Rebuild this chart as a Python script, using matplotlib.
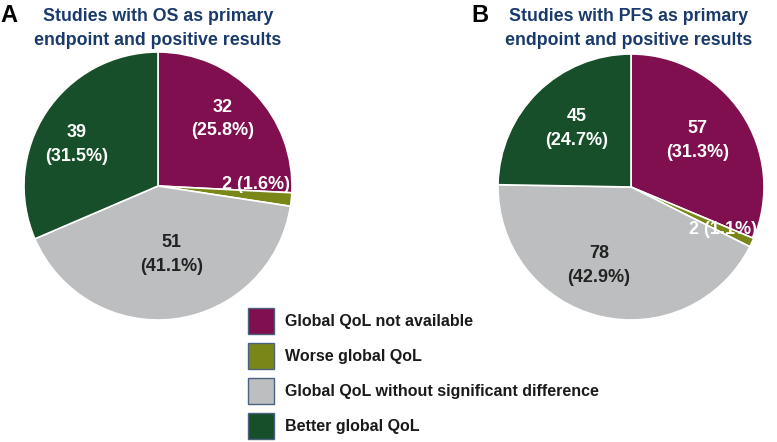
import matplotlib
matplotlib.use("Agg")
import matplotlib.pyplot as plt
from matplotlib.patches import Patch

plt.rcParams['font.family'] = ['Liberation Sans', 'DejaVu Sans']

categories = ["Global QoL not available", "Worse global QoL",
              "Global QoL without significant difference", "Better global QoL"]
values_os = [32, 2, 51, 39]
values_pfs = [57, 2, 78, 45]
titles = ["Studies with OS as primary\nendpoint and positive results",
          "Studies with PFS as primary\nendpoint and positive results"]
panel_letters = ["A", "B"]

colors = ["#7f0f4e", "#7b8618", "#bdbebf", "#174f2a"]
text_colors = ["white", "white", "#222222", "white"]
title_color = "#1a3a6b"

# label positions (relative to pie center, in radius units)
label_pos_os = [(0.48, 0.50), (0.73, 0.01), (0.10, -0.51), (-0.61, 0.31)]
label_pos_pfs = [(0.50, 0.35), (0.69, -0.32), (-0.24, -0.59), (-0.41, 0.44)]

W, H = 777, 442
fig = plt.figure(figsize=(W / 100, H / 100), dpi=100)


def make_pie(cx, cy, r, values, label_pos, title, letter, letter_x, title_cx):
    ax = fig.add_axes([(cx - r) / W, (H - cy - r) / H, 2 * r / W, 2 * r / H])
    ax.pie(values, colors=colors, startangle=90, counterclock=False,
           wedgeprops=dict(edgecolor="white", linewidth=1.2))
    ax.set_xlim(-1, 1)
    ax.set_ylim(-1, 1)
    ax.set_aspect("auto")
    ax.axis("off")
    total = sum(values)
    for i, v in enumerate(values):
        pct = 100.0 * v / total
        if v < 5:
            s = f"{v} ({pct:.1f}%)"
        else:
            s = f"{v}\n({pct:.1f}%)"
        x, y = label_pos[i]
        ax.text(x, y, s, ha="center", va="center", color=text_colors[i],
                fontsize=13, fontweight="bold", linespacing=1.5)
    fig.text(title_cx / W, 1 - 28.5 / H, title, ha="center", va="center",
             color=title_color, fontsize=12.8, fontweight="bold",
             linespacing=1.58)
    fig.text(letter_x / W, 1 - 15 / H, letter, ha="left", va="center",
             color="black", fontsize=17, fontweight="bold")


make_pie(158, 186, 134, values_os, label_pos_os, titles[0], panel_letters[0], 0, 158)
make_pie(631, 187, 133, values_pfs, label_pos_pfs, titles[1], panel_letters[1], 471, 629)

handles = [Patch(facecolor=c, edgecolor="#4a6280", linewidth=1.0) for c in colors]
leg = fig.legend(handles, categories, loc="upper left",
                 bbox_to_anchor=(248 / W, 1 - 308 / H), frameon=False,
                 prop=dict(size=11.5, weight="bold"),
                 handlelength=1.63, handleheight=2.12, labelspacing=0.56,
                 handletextpad=0.7, borderpad=0.0, borderaxespad=0)
for t in leg.get_texts():
    t.set_color("#1a1a1a")

fig.savefig("out.png", dpi=100)
